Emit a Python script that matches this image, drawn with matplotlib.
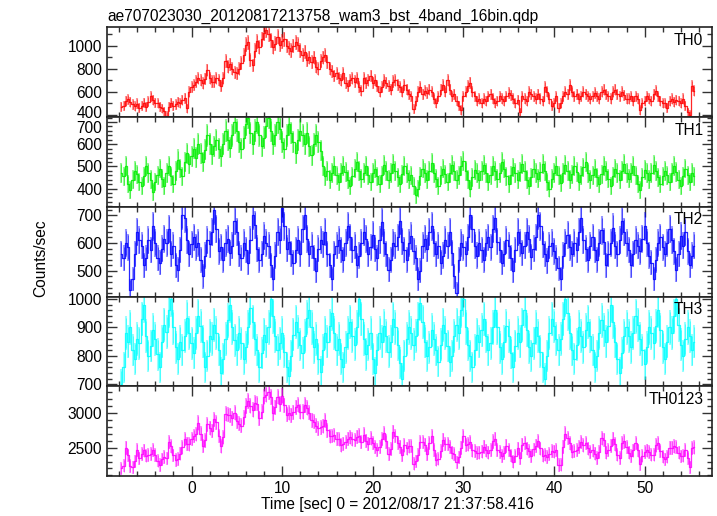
import numpy as np
import matplotlib
matplotlib.use("Agg")
import matplotlib.pyplot as plt
from matplotlib.ticker import MultipleLocator
from matplotlib.transforms import ScaledTranslation

plt.rcParams['font.family'] = ['Liberation Sans', 'DejaVu Sans']

title = "ae707023030_20120817213758_wam3_bst_4band_16bin.qdp"
xlabel = "Time [sec] 0 = 2012/08/17 21:37:58.416"
ylabel = "Counts/sec"
panel_names = ["TH0", "TH1", "TH2", "TH3", "TH0123"]

time_start = -7.75
bin_width = 0.25

th0 = [
    470,478,520,535,510,490,475,498,462,480,505,470,515,560,530,505,
    500,470,455,430,390,470,505,480,490,510,500,530,545,455,600,640,
    660,690,720,700,675,715,790,720,690,690,720,700,650,720,870,820,
    840,800,770,760,800,850,920,1010,1030,880,830,960,1040,990,1060,1110,
    1140,1100,1050,990,1020,1080,1010,1040,1060,1000,980,960,1000,1030,1010,960,
    920,950,880,900,860,900,820,800,870,900,920,860,800,780,740,760,
    720,700,760,680,650,700,720,690,720,640,610,720,680,700,740,680,
    700,650,600,640,700,680,650,620,690,700,660,640,600,660,620,580,
    560,450,520,600,640,580,610,590,620,600,540,500,560,620,660,600,
    700,620,560,580,520,480,440,560,600,650,680,600,560,520,540,500,
    540,520,560,580,540,500,520,560,540,520,560,590,570,540,500,530,
    420,560,540,520,600,580,560,540,580,540,520,640,600,540,480,500,
    560,460,500,560,600,580,660,600,560,580,540,560,600,580,560,540,
    560,590,560,540,600,620,580,560,540,600,620,580,560,600,570,540,
    540,560,520,560,540,440,500,520,560,540,520,580,610,560,520,500,
    500,460,520,540,510,530,520,500,540,480,420,400,650,610,
]

th1 = [
    470,455,500,420,395,440,480,465,430,410,455,500,470,440,385,430,
    460,490,445,410,470,500,455,420,480,530,490,455,520,560,510,545,
    580,540,600,560,520,575,640,600,555,590,620,580,545,600,660,620,
    585,640,700,660,610,580,630,690,720,650,600,660,700,640,590,630,
    680,720,660,600,640,700,670,610,580,640,690,650,610,560,620,660,
    640,600,650,590,550,600,640,610,570,500,455,480,440,470,500,460,
    430,470,500,475,440,410,455,490,520,480,445,470,500,460,430,470,
    490,455,420,460,505,480,440,470,510,480,450,420,465,500,470,440,
    460,410,370,400,455,490,470,440,480,515,470,445,410,460,490,465,
    430,470,505,480,440,460,500,525,480,440,400,450,485,470,440,480,
    505,470,430,460,500,480,445,470,520,490,455,420,460,495,470,440,
    475,510,480,440,410,450,490,470,445,475,510,480,430,400,445,470,
    500,460,425,470,505,480,440,465,500,475,430,460,495,520,470,440,
    460,490,450,420,465,500,480,445,410,455,490,470,440,480,510,470,
    445,470,500,460,420,395,450,485,470,440,470,505,480,450,420,455,
    480,460,430,470,500,475,440,410,455,490,460,430,470,455,
]

th2 = [
    560,545,600,585,430,470,560,640,610,590,520,545,610,575,660,600,
    545,530,580,615,600,650,560,590,520,505,575,700,690,610,560,595,
    620,585,600,540,480,555,610,595,640,720,650,570,585,540,600,615,
    565,590,680,640,560,545,600,575,530,610,700,665,580,540,560,625,
    600,590,520,470,555,640,610,725,660,580,605,560,530,575,610,560,
    650,700,615,560,590,545,500,580,610,595,640,560,520,470,560,590,
    610,575,540,600,660,620,575,590,520,555,600,640,615,560,585,630,
    580,545,610,675,600,560,505,540,600,590,620,680,605,575,540,600,
    625,570,545,470,500,590,615,580,640,660,600,560,590,530,555,610,
    590,640,565,480,420,540,600,585,560,620,700,650,590,555,600,575,
    540,600,620,585,650,690,605,575,530,560,610,590,545,500,575,640,
    600,565,590,640,615,550,580,620,700,660,595,560,535,590,600,570,
    545,510,470,555,600,630,585,560,600,575,640,690,610,580,540,590,
    620,575,540,600,645,605,520,560,600,655,590,560,610,680,640,600,
    575,520,560,610,590,570,615,660,600,555,530,470,540,600,620,585,
    560,600,650,610,570,505,560,625,590,640,570,520,555,590,
]

th3 = [
    700,760,880,850,900,820,790,860,845,930,980,870,800,835,890,860,
    805,760,850,910,885,960,1000,900,830,790,850,820,870,935,880,845,
    810,880,940,905,850,760,800,870,860,910,880,820,740,790,860,925,
    980,900,855,820,880,845,790,830,900,970,920,860,820,760,810,875,
    850,900,1000,940,870,820,845,880,815,760,730,800,875,920,885,840,
    810,870,935,960,900,830,860,790,745,820,880,850,905,950,880,820,
    860,790,760,830,880,920,870,840,900,1000,930,860,805,840,880,790,
    740,820,880,850,905,870,815,850,930,900,840,775,720,800,860,900,
    880,840,870,930,985,920,850,800,830,890,860,820,780,840,910,880,
    835,780,800,870,910,880,960,1000,900,840,800,760,820,875,850,890,
    930,870,820,845,900,960,900,830,790,850,905,870,810,760,835,880,
    850,910,960,890,830,800,845,900,870,815,760,720,800,880,930,905,
    860,820,860,930,1000,950,880,820,790,840,900,870,830,890,920,870,
    820,760,800,880,925,890,850,905,980,920,850,790,740,810,870,900,
    870,830,880,940,910,860,820,770,830,900,880,845,905,960,890,830,
    790,850,900,880,940,1000,910,840,800,860,900,870,820,850,
]

th0 = np.array(th0, float)
th1 = np.array(th1, float)
th2 = np.array(th2, float)
th3 = np.array(th3, float)
th0123 = th0 + th1 + th2 + th3
series = [th0, th1, th2, th3, th0123]
t = time_start + bin_width * np.arange(len(th0))

colors = ["#ff0000", "#00ee00", "#0000ff", "#00ffff", "#ff00ff"]
ylims = [(380, 1162), (318, 722), (408, 730), (693, 1009), (2090, 3390)]
majors = [200, 100, 100, 100, 500]
minors = [100, 20, 20, 20, 100]
xlim = (-9.33, 57.4)

fig = plt.figure(figsize=(7.17, 5.16), dpi=100)
fig.subplots_adjust(left=0.1492, right=0.9926, top=0.947, bottom=0.0775, hspace=0)
axes = fig.subplots(5, 1, sharex=True)

fs = 11.2
for i, ax in enumerate(axes):
    y = series[i]
    err = np.sqrt(y / bin_width)
    c = colors[i]
    ax.errorbar(t, y, yerr=err, fmt='none', ecolor=c, elinewidth=1.5, alpha=0.4, capsize=0)
    ax.step(t, y, where='mid', color=c, lw=0.9, alpha=0.85)
    ax.errorbar(t, y, yerr=err * 0.9, fmt='none', ecolor=c, elinewidth=0.5, alpha=0.75, capsize=0)
    ax.set_xlim(*xlim)
    ax.set_ylim(*ylims[i])
    ax.yaxis.set_major_locator(MultipleLocator(majors[i]))
    ax.yaxis.set_minor_locator(MultipleLocator(minors[i]))
    ax.xaxis.set_major_locator(MultipleLocator(10))
    ax.xaxis.set_minor_locator(MultipleLocator(2))
    ax.tick_params(which='both', direction='in', top=True, right=True,
                   labelsize=fs, width=1.0, color='#333333')
    ax.tick_params(which='major', length=7)
    ax.tick_params(which='minor', length=3.5)
    for sp in ax.spines.values():
        sp.set_linewidth(1.2)
        sp.set_color('#222222')
    ax.annotate(panel_names[i], xy=(1, 1), xycoords='axes fraction',
                xytext=(-6, -4), textcoords='offset points',
                ha='right', va='top', fontsize=fs)
    if i < 4:
        ax.tick_params(labelbottom=False)

axes[0].set_title(title, loc='left', fontsize=fs, pad=5)
axes[-1].set_xlabel(xlabel, fontsize=fs)
axes[-1].xaxis.set_label_coords(0.481, -0.235)
fig.text(0.057, 0.5, ylabel, rotation=90, ha='center', va='center', fontsize=fs)

# nudge adjacent edge labels apart slightly so they do not collide
fig.canvas.draw()
for tick in axes[1].yaxis.get_major_ticks():
    if abs(tick.get_loc() - 700) < 1e-6:
        lab = tick.label1
        lab.set_transform(lab.get_transform() + ScaledTranslation(0, -3.6 / 72, fig.dpi_scale_trans))
for tick in axes[0].yaxis.get_major_ticks():
    if abs(tick.get_loc() - 400) < 1e-6:
        lab = tick.label1
        lab.set_transform(lab.get_transform() + ScaledTranslation(0, 1.8 / 72, fig.dpi_scale_trans))

fig.savefig("out.png", dpi=100)
